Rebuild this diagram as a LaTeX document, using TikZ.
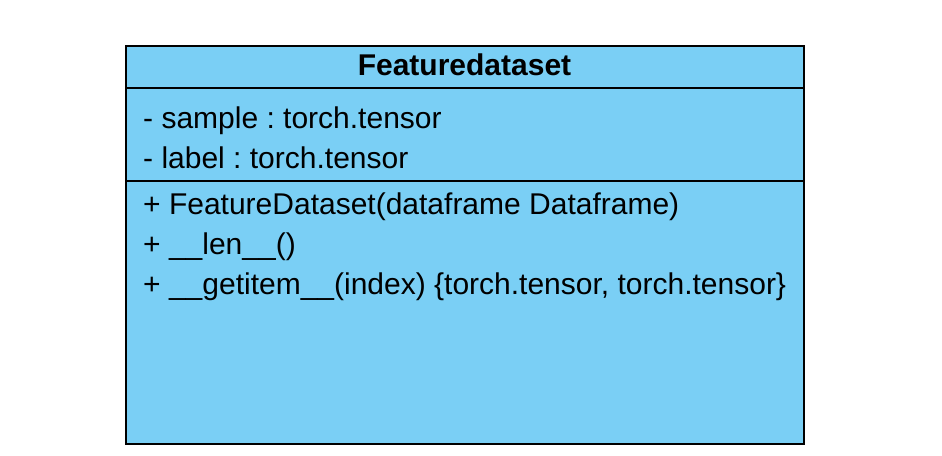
\documentclass[tikz,border=0pt]{standalone}
\usepackage{fontspec}
\setmainfont{Liberation Sans}
\usetikzlibrary{positioning}
\definecolor{classblue}{RGB}{122,207,245}
\frenchspacing

\tikzset{
	classbox/.style = {draw, line width=2pt, fill=classblue, inner sep=0pt,
		minimum width=678pt, minimum height=398pt},
	member/.style = {anchor=base west, inner sep=0pt,
		font=\fontsize{30}{36}\selectfont},
	classname/.style = {anchor=base, inner sep=0pt,
		font=\bfseries\fontsize{30}{36}\selectfont}
}

\begin{document}
\begin{tikzpicture}[x=1pt, y=-1pt]
	\useasboundingbox (0,0) rectangle (942,455);
	\node (box) [classbox, anchor=north west] at (125,45) {};
	% compartments
	\coordinate (sepA) at (125,88);
	\coordinate (sepB) at (125,181);
	\draw [line width=2pt] (sepA) -- (sepA -| box.east);
	\draw [line width=2pt] (sepB) -- (sepB -| box.east);
	% name
	\node (title) [classname] at (464.5,75) {Featuredataset};
	% attributes
	\node (sample) [member] at (143,128) {- sample : torch.tensor};
	\node (label) [member] at (143,168) {- label : torch.tensor};
	% methods
	\node (init) [member] at (143,214) {+ FeatureDataset(dataframe Dataframe)};
	\node (len) [member] at (143,254) {+ \_\_len\_\_()};
	\node (getitem) [member] at (143,294) {+ \_\_getitem\_\_(index) \{torch.tensor, torch.tensor\}};
\end{tikzpicture}
\end{document}
